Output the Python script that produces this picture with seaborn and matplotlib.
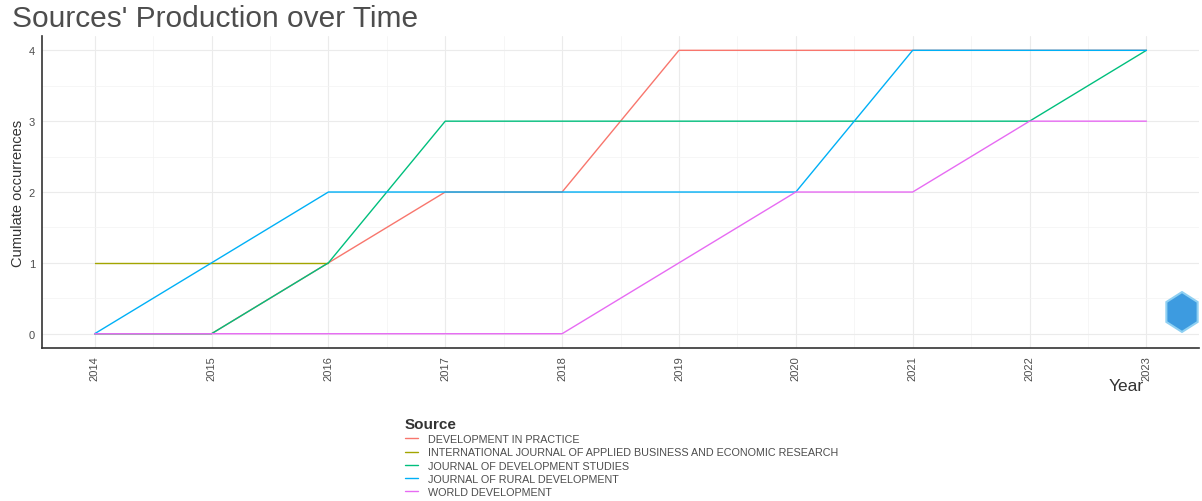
import matplotlib.pyplot as plt
import matplotlib.patches as mpatches
import seaborn as sns
import pandas as pd

years = [2014, 2015, 2016, 2017, 2018, 2019, 2020, 2021, 2022, 2023]

dev_in_practice = [0, 0, 1, 2, 2, 4, 4, 4, 4, 4]
intl_journal = [1, 1, 1]
journal_dev_studies = [0, 0, 1, 3, 3, 3, 3, 3, 3, 4]
journal_rural_dev = [0, 1, 2, 2, 2, 2, 2, 4, 4, 4]
world_dev = [0, 0, 0, 0, 0, 1, 2, 2, 3, 3]

sources = [
    'DEVELOPMENT IN PRACTICE',
    'INTERNATIONAL JOURNAL OF APPLIED BUSINESS AND ECONOMIC RESEARCH',
    'JOURNAL OF DEVELOPMENT STUDIES',
    'JOURNAL OF RURAL DEVELOPMENT',
    'WORLD DEVELOPMENT',
]
series = [dev_in_practice, intl_journal, journal_dev_studies, journal_rural_dev, world_dev]
colors = ['#F8766D', '#A3A500', '#00BF7D', '#00B0F6', '#E76BF3']

rows = []
for name, vals in zip(sources, series):
    for yr, v in zip(years, vals):
        rows.append({'Year': yr, 'Freq': v, 'Source': name})
df = pd.DataFrame(rows)

sns.set_style('white')
plt.rcParams['font.family'] = ['Liberation Sans', 'DejaVu Sans']

fig = plt.figure(figsize=(12.02, 5.02), dpi=100)
ax = fig.add_axes([0.035, 0.305, 0.9625, 0.621])

sns.lineplot(data=df, x='Year', y='Freq', hue='Source', hue_order=sources,
             palette=colors, linewidth=1.0, legend=False, ax=ax)

ax.set_xlim(2013.55, 2023.45)
ax.set_ylim(-0.2, 4.2)
ax.set_xticks(years)
ax.set_xticklabels([str(y) for y in years], rotation=90, fontsize=8, color='#4d4d4d')
ax.set_yticks([0, 1, 2, 3, 4])
ax.set_yticklabels(['0', '1', '2', '3', '4'], fontsize=8, color='#4d4d4d')
ax.set_xticks([y + 0.5 for y in years[:-1]], minor=True)
ax.set_yticks([0.5, 1.5, 2.5, 3.5], minor=True)
ax.grid(True, which='major', color='#ebebeb', linewidth=0.8)
ax.grid(True, which='minor', color='#f3f3f3', linewidth=0.5)
ax.set_axisbelow(True)
ax.tick_params(axis='both', which='major', length=3, width=0.6, color='#333333', pad=2)
ax.tick_params(axis='both', which='minor', length=0)

for s in ['top', 'right']:
    ax.spines[s].set_visible(False)
for s in ['left', 'bottom']:
    ax.spines[s].set_color('#333333')
    ax.spines[s].set_linewidth(1.2)

ax.set_ylabel('Cumulate occurrences', fontsize=10.5, color='#333333', labelpad=3)
ax.set_xlabel('Year', fontsize=12.5, color='#333333', ha='right')
ax.xaxis.set_label_coords(0.952, -0.097)

fig.text(0.01, 0.962, "Sources' Production over Time", fontsize=21.5, color='#4d4d4d',
         va='center', ha='left')

# watermark logo
logo_ax = fig.add_axes([1163 / 1202, 1 - 334 / 502, 38 / 1202, 42 / 502])
logo_ax.set_xlim(-1, 1)
logo_ax.set_ylim(-1, 1)
logo_ax.axis('off')
logo_ax.add_patch(mpatches.RegularPolygon((0, 0), numVertices=6, radius=0.95,
                                          facecolor='#3d9be0', edgecolor='#8fd0f2',
                                          linewidth=1.5))

handles = [plt.Line2D([], [], color=c, linewidth=1.0) for c in colors]
leg = fig.legend(handles, sources, loc='upper left', bbox_to_anchor=(405 / 1202, 1 - 418 / 502),
                 frameon=False, fontsize=7.75, title='Source', alignment='left',
                 handlelength=1.2, handletextpad=0.95, labelspacing=0.3,
                 borderaxespad=0, borderpad=0)
leg.get_title().set_fontweight('bold')
leg.get_title().set_fontsize(11)
leg.get_title().set_color('#333333')
for t in leg.get_texts():
    t.set_color('#4d4d4d')

fig.savefig('out.png', dpi=100)
